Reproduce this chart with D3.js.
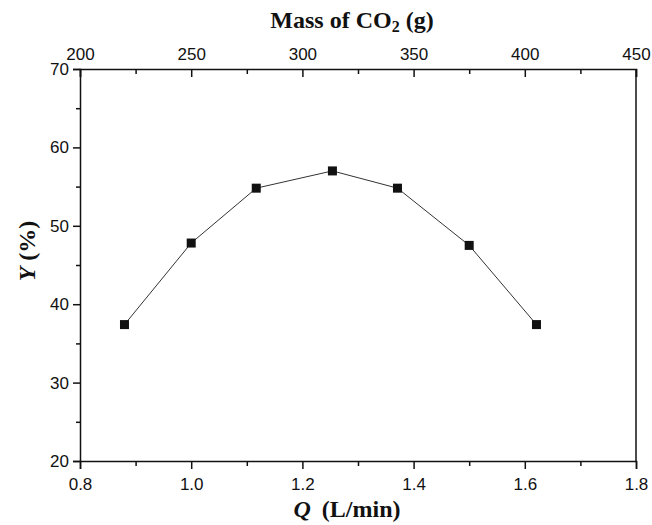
<!doctype html>
<html>
  <head>
    <style>
      body { margin: 0; background: #fff; }
      .tick text { font-family: "Liberation Sans", Arial, sans-serif; font-size: 17px; fill: #111; }
      .title { font-family: "Liberation Serif", "Times New Roman", serif; font-weight: bold; font-size: 24px; fill: #111; }
    </style>
  </head>
  <body>
    <div id="chart"></div>
    <script src="https://d3js.org/d3.v7.min.js"></script>
    <script>
      // flow rate Q (L/min) and yield Y (%)
      var flowRate = [0.88, 1.0, 1.117, 1.254, 1.371, 1.5, 1.621];
      var yieldPct = [37.4, 47.8, 54.8, 57.0, 54.8, 47.5, 37.4];
      var xTicks = [0.8, 1.0, 1.2, 1.4, 1.6, 1.8];
      var massTicks = [200, 250, 300, 350, 400, 450];
      var yTicks = [20, 30, 40, 50, 60, 70];

      var width = 652, height = 525;
      var margin = {top: 69, right: 16, bottom: 64, left: 80};

      var svg = d3.select("#chart").append("svg")
          .attr("width", width)
          .attr("height", height);

      var x = d3.scaleLinear().domain([0.8, 1.8]).range([margin.left, width - margin.right]);
      var xTop = d3.scaleLinear().domain([200, 450]).range([margin.left, width - margin.right]);
      var y = d3.scaleLinear().domain([20, 70]).range([height - margin.bottom, margin.top]);

      var data = flowRate.map(function(q, i) { return {q: q, y: yieldPct[i]}; });

      // bottom axis, ticks outside
      svg.append("g")
          .attr("transform", "translate(0," + (height - margin.bottom) + ")")
          .call(d3.axisBottom(x).tickValues(xTicks).tickFormat(d3.format(".1f")).tickSize(8).tickPadding(9));
      svg.append("g")
          .attr("transform", "translate(0," + (height - margin.bottom) + ")")
          .call(d3.axisBottom(x).tickValues([0.9, 1.1, 1.3, 1.5, 1.7]).tickFormat("").tickSize(5))
          .select(".domain").remove();

      // top axis, ticks inside, labels above
      svg.append("g")
          .attr("transform", "translate(0," + margin.top + ")")
          .call(d3.axisTop(xTop).tickValues(massTicks).tickSize(-8).tickPadding(9));
      svg.append("g")
          .attr("transform", "translate(0," + margin.top + ")")
          .call(d3.axisTop(xTop).tickValues([225, 275, 325, 375, 425]).tickFormat("").tickSize(-5))
          .select(".domain").remove();

      // left axis
      svg.append("g")
          .attr("transform", "translate(" + margin.left + ",0)")
          .call(d3.axisLeft(y).tickValues(yTicks).tickSize(7).tickPadding(4));
      svg.append("g")
          .attr("transform", "translate(" + margin.left + ",0)")
          .call(d3.axisLeft(y).tickValues([25, 35, 45, 55, 65]).tickFormat("").tickSize(4))
          .select(".domain").remove();

      // right border
      svg.append("line")
          .attr("x1", width - margin.right).attr("x2", width - margin.right)
          .attr("y1", margin.top).attr("y2", height - margin.bottom)
          .attr("stroke", "#111").attr("stroke-width", 1.5);

      svg.selectAll(".domain, .tick line").attr("stroke", "#111").attr("stroke-width", 1.5);

      var line = d3.line()
          .x(function(d) { return x(d.q); })
          .y(function(d) { return y(d.y); });

      svg.append("path")
          .datum(data)
          .attr("fill", "none")
          .attr("stroke", "#333")
          .attr("stroke-width", 1)
          .attr("d", line);

      svg.selectAll(".pt")
          .data(data)
        .enter().append("rect")
          .attr("class", "pt")
          .attr("x", function(d) { return x(d.q) - 4.5; })
          .attr("y", function(d) { return y(d.y) - 4.5; })
          .attr("width", 9)
          .attr("height", 9)
          .attr("fill", "#111");

      // titles
      var topTitle = svg.append("text").attr("class", "title")
          .attr("x", 352)
          .attr("y", 28)
          .attr("text-anchor", "middle");
      topTitle.append("tspan").text("Mass of CO");
      topTitle.append("tspan").attr("font-size", "16px").attr("dy", 4).text("2");
      topTitle.append("tspan").attr("dy", -4).text(" (g)");

      var bottomTitle = svg.append("text").attr("class", "title")
          .attr("x", 347)
          .attr("y", 517)
          .attr("text-anchor", "middle");
      bottomTitle.append("tspan").attr("font-style", "italic").text("Q");
      bottomTitle.append("tspan").attr("dx", 5).text(" (L/min)");

      var yTitle = svg.append("text").attr("class", "title")
          .attr("transform", "translate(35,251) rotate(-90)")
          .attr("text-anchor", "middle");
      yTitle.append("tspan").attr("font-style", "italic").text("Y");
      yTitle.append("tspan").text(" (%)");
    </script>
  </body>
</html>
